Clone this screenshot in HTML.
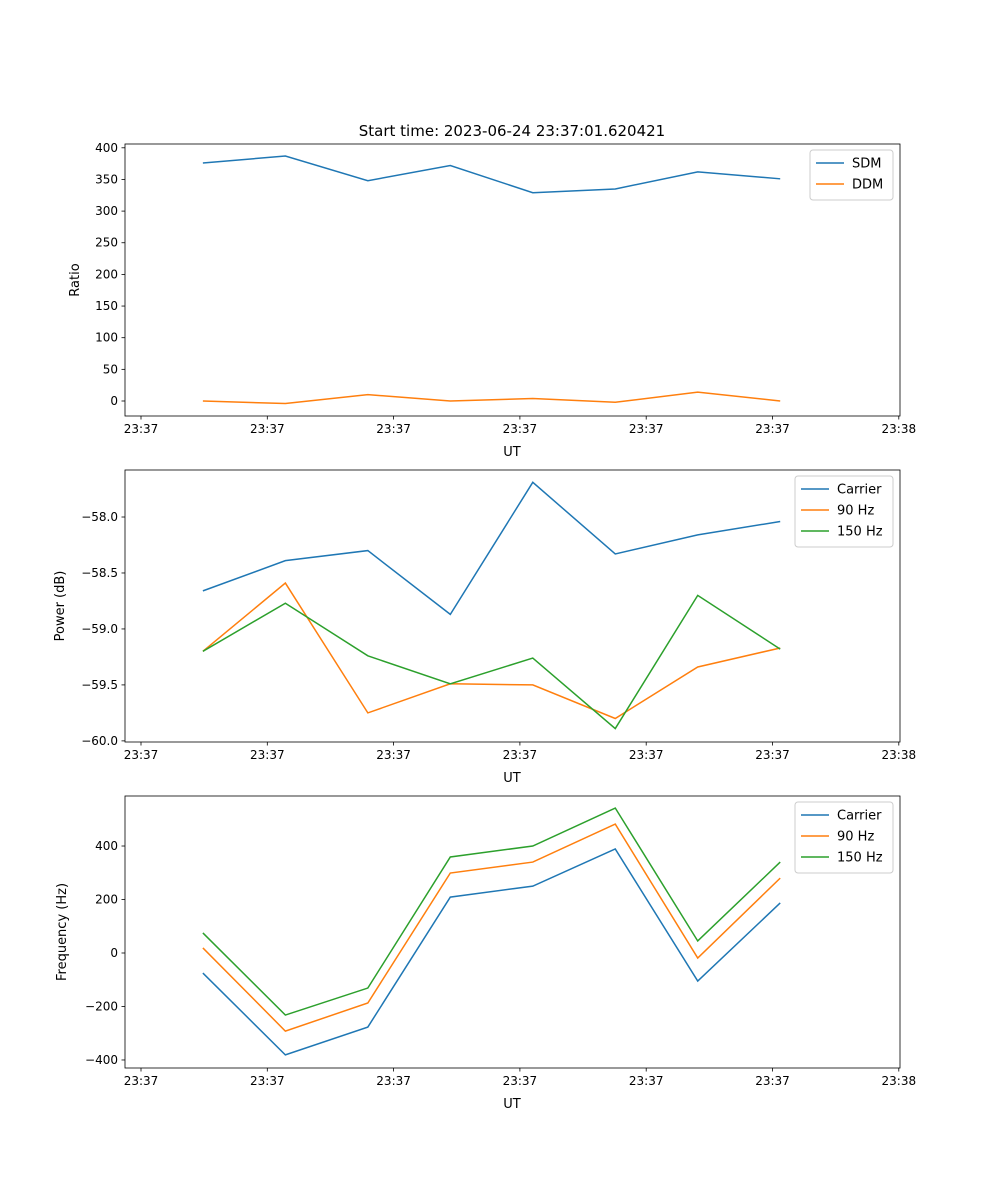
<!DOCTYPE html>
<html><head><meta charset="utf-8"><style>
body{margin:0;background:#fff}
svg{display:block;font-family:"DejaVu Sans","Liberation Sans",sans-serif}
</style></head><body>
<svg id="fig" width="1000" height="1200"></svg>
<script>
const times=[0.49,1.143,1.796,2.449,3.102,3.755,4.408,5.061];
const xTickVals=[0,1,2,3,4,5,6];
const xTickLabels=["23:37","23:37","23:37","23:37","23:37","23:37","23:38"];
const sdm=[376,387,348,372,329,335,362,351];
const ddm=[0,-4,10,0,4,-2,14,0];
const pCarrier=[-58.66,-58.39,-58.30,-58.87,-57.69,-58.33,-58.16,-58.04];
const p90=[-59.2,-58.59,-59.75,-59.49,-59.5,-59.8,-59.34,-59.17];
const p150=[-59.2,-58.77,-59.24,-59.49,-59.26,-59.89,-58.70,-59.18];
const fCarrier=[-75,-381,-277,209,250,389,-105,187];
const f90=[19,-292,-187,299,340,482,-19,280];
const f150=[75,-232,-131,359,400,542,45,340];
const ticks1=[0,50,100,150,200,250,300,350,400];
const ticks2=[-60,-59.5,-59,-58.5,-58];
const ticks2Labels=["\u221260.0","\u221259.5","\u221259.0","\u221258.5","\u221258.0"];
const ticks3=[-400,-200,0,200,400];
const ticks3Labels=["\u2212400","\u2212200","0","200","400"];
const C=["#1f77b4","#ff7f0e","#2ca02c"];
const NS="http://www.w3.org/2000/svg";
const svg=document.getElementById('fig');
function mk(t,a,p){const e=document.createElementNS(NS,t);for(const k in a)e.setAttribute(k,a[k]);(p||svg).appendChild(e);return e;}
const X0=125,X1=900;
function xs(t){return 141+t*126.3;}
function panel(name,top,bot,ymin,ymax,yt,ytl,ylabel,series,names,legW){
  const g=mk('g',{});
  
  
  const ys=v=>bot-(v-ymin)/(ymax-ymin)*(bot-top);
  series.forEach((s,i)=>{
    const pl=mk('polyline',{points:s.map((v,j)=>xs(times[j])+','+ys(v)).join(' '),fill:'none',stroke:C[i],'stroke-width':1.5},g);
    
    
  });
  mk('rect',{x:X0,y:top,width:X1-X0,height:bot-top,fill:'none',stroke:'#000','stroke-width':0.8},g);
  xTickVals.forEach((t,i)=>{const x=xs(t);mk('line',{x1:x,x2:x,y1:bot,y2:bot+3.5,stroke:'#000','stroke-width':0.8},g);
    const tx=mk('text',{x:x,y:bot+17,'font-size':12,'text-anchor':'middle'},g);tx.textContent=xTickLabels[i];
    });
  yt.forEach((v,i)=>{const y=ys(v);mk('line',{x1:X0,x2:X0-3.5,y1:y,y2:y,stroke:'#000','stroke-width':0.8},g);
    const tx=mk('text',{x:X0-7,y:y+4,'font-size':12,'text-anchor':'end'},g);tx.textContent=ytl[i];
    });
  const xl=mk('text',{x:512,y:bot+40,'font-size':13,'text-anchor':'middle'},g);xl.textContent='UT';
  
  const cy=(top+bot)/2;
  const yl=mk('text',{x:0,y:0,'font-size':13,'text-anchor':'middle',transform:`translate(${ylabel[1]},${cy}) rotate(-90)`},g);yl.textContent=ylabel[0];
  
  const lg=mk('g',{},g);
  
  const lx=X1-7-legW, ly=top+6;
  mk('rect',{x:lx,y:ly,width:legW,height:8+names.length*21,fill:'#fff',stroke:'#ccc',rx:3},lg);
  names.forEach((n,i)=>{const yy=ly+13+i*21;
    mk('line',{x1:lx+6,x2:lx+34,y1:yy,y2:yy,stroke:C[i],'stroke-width':1.5},lg);
    const t=mk('text',{x:lx+42,y:yy+4.5,'font-size':13},lg);t.textContent=n;
    });
}
const title=mk('text',{x:512,y:136,'font-size':15,'text-anchor':'middle'});
title.textContent='Start time: 2023-06-24 23:37:01.620421';

panel('ratio-panel',144,416,-23.7,406,ticks1,ticks1.map(String),['Ratio',79],[sdm,ddm],['SDM','DDM'],83);
panel('power-panel',470,742,-60.01,-57.58,ticks2,ticks2Labels,['Power (dB)',64],[pCarrier,p90,p150],['Carrier','90 Hz','150 Hz'],98);
panel('frequency-panel',796,1068,-430,587,ticks3,ticks3Labels,['Frequency (Hz)',66],[fCarrier,f90,f150],['Carrier','90 Hz','150 Hz'],98);
</script>
</body></html>
